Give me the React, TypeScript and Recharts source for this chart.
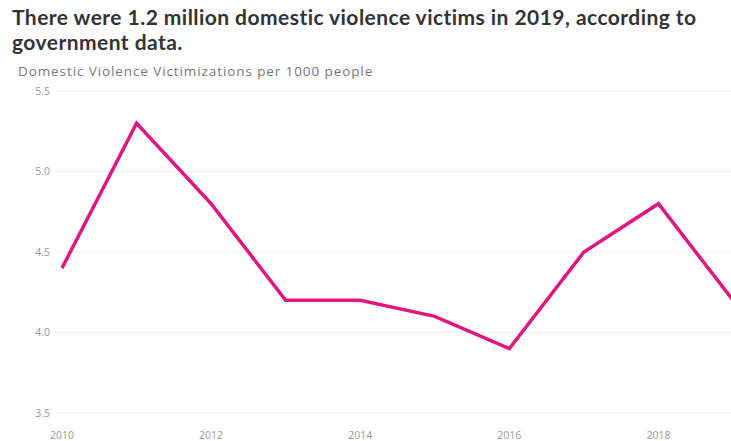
import { LineChart, Line, XAxis, YAxis, CartesianGrid } from 'recharts'

const years = [2010, 2011, 2012, 2013, 2014, 2015, 2016, 2017, 2018, 2019]
const victimizations = [4.4, 5.3, 4.8, 4.2, 4.2, 4.1, 3.9, 4.5, 4.8, 4.2]
const xTicks = [2010, 2012, 2014, 2016, 2018]
const yTicks = [3.5, 4.0, 4.5, 5.0, 5.5]

const chartData = years.map((year, i) => ({ year, value: victimizations[i] }))

const tickStyle = { fill: '#999', fontSize: 10.5, fontFamily: '"Open Sans", sans-serif' }

export default function App() {
  return (
    <div
      style={{
        position: 'absolute',
        left: 0,
        top: 0,
        width: 731,
        height: 441,
        overflow: 'hidden',
        background: '#fff',
      }}
    >
      <div
        style={{
          position: 'absolute',
          left: 12,
          top: 4,
          width: 719,
          fontFamily: 'Lato, sans-serif',
          fontWeight: 700,
          fontSize: 21,
          letterSpacing: 0.45,
          lineHeight: '25px',
          color: '#333',
        }}
      >
        There were 1.2 million domestic violence victims in 2019, according to government data.
      </div>
      <div
        style={{
          position: 'absolute',
          left: 18,
          top: 62,
          fontFamily: '"Open Sans", sans-serif',
          fontSize: 13.5,
          letterSpacing: 0.9,
          color: '#777',
        }}
      >
        Domestic Violence Victimizations per 1000 people
      </div>
      <div style={{ position: 'absolute', left: 0, top: 0 }}>
        <LineChart
          width={733}
          height={441}
          data={chartData}
          margin={{ top: 91, right: 0, bottom: 0, left: 0 }}
        >
          <CartesianGrid vertical={false} stroke="#eeeeee" />
          <XAxis
            dataKey="year"
            type="number"
            domain={[2010, 2019]}
            ticks={xTicks}
            height={28}
            padding={{ left: 6, right: 0 }}
            axisLine={false}
            tickLine={false}
            tickMargin={13}
            tick={tickStyle}
          />
          <YAxis
            domain={[3.5, 5.5]}
            ticks={yTicks}
            width={56}
            axisLine={false}
            tickLine={false}
            tickMargin={0}
            tickFormatter={(v) => v.toFixed(1)}
            tick={tickStyle}
          />
          <Line
            type="linear"
            dataKey="value"
            stroke="#e0177f"
            strokeWidth={3.5}
            dot={false}
            isAnimationActive={false}
          />
        </LineChart>
      </div>
    </div>
  )
}
